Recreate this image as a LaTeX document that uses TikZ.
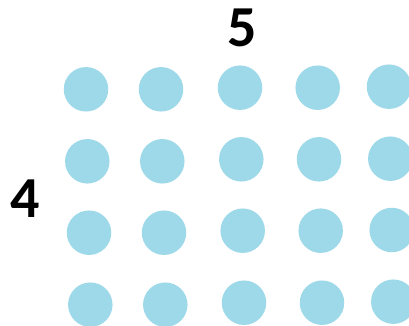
\documentclass[tikz,border=0pt]{standalone}
\usepackage{fontspec}
\setmainfont{Carlito}
\usetikzlibrary{positioning}
\definecolor{beadblue}{HTML}{9DD9E9}
\tikzset{
  bead/.style={circle,fill=beadblue,inner sep=0pt,minimum size=44.5pt},
  countlabel/.style={font=\fontsize{58}{58}\selectfont\bfseries,inner sep=0pt}
}
\begin{document}
\begin{tikzpicture}[x=1pt,y=-1pt]
  \useasboundingbox (0,0) rectangle (409,326);
  % rows of beads, top to bottom
  \foreach \x/\y/\n in {86/89.3/r1c1,161/89.3/r1c2,240/87.7/r1c3,317.7/87.7/r1c4,389/86.7/r1c5,
                        87.3/161.3/r2c1,162.3/161.3/r2c2,241.3/159.3/r2c3,319/159.3/r2c4,390.3/158.7/r2c5,
                        89/232.7/r3c1,164/232.7/r3c2,242.7/230.7/r3c3,320.7/230.7/r3c4,391.7/230/r3c5,
                        90.3/304.7/r4c1,165.3/304.7/r4c2,244/302.7/r4c3,322/302.7/r4c4,393.3/301.7/r4c5}
    \node[bead] (\n) at (\x,\y) {};
  \node[countlabel] (cols) at (241.7,28.3) {5};
  \node[countlabel] (rows) at (25,198.3) {4};
\end{tikzpicture}
\end{document}
